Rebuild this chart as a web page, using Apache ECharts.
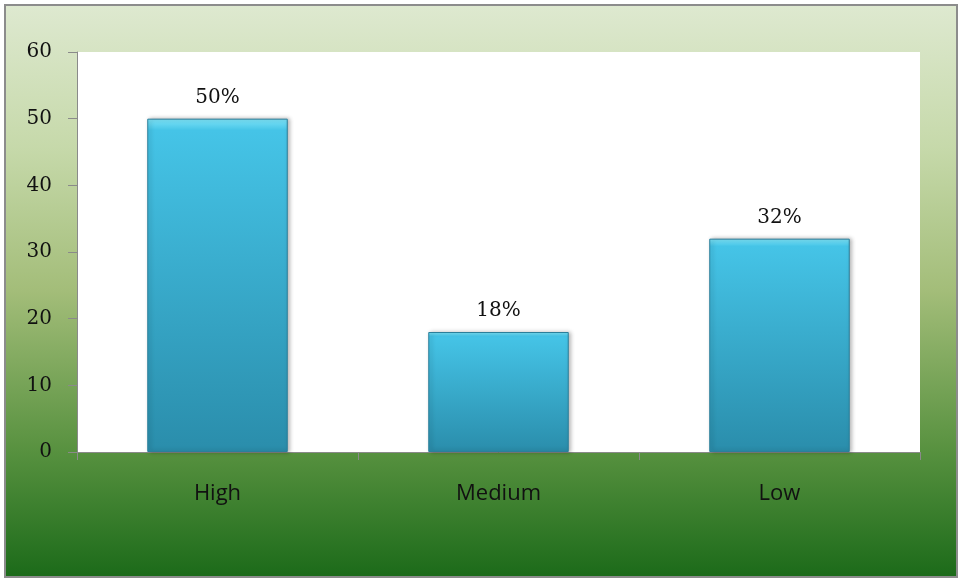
<!DOCTYPE html>
<html>
<head>
<meta charset="utf-8">
<script src="https://cdn.jsdelivr.net/npm/echarts@6/dist/echarts.min.js"></script>
<style>
  html, body { margin: 0; padding: 0; background: #fff; }
  .chart { width: 960px; height: 580px; }
</style>
</head>
<body>
<div class="chart"></div>
<script>
// 数据
var categories = ['High', 'Medium', 'Low'];
var values = [50, 18, 32];
var valueLabels = ['50%', '18%', '32%'];
var yTicks = [0, 10, 20, 30, 40, 50, 60];

(function(){
    var myChart = echarts.init(document.querySelector('.chart'));
    var option = {
        animation: false,
        // 外框 + 背景渐变
        graphic: [
            {
                type: 'rect',
                z: -10,
                shape: { x: 5, y: 5, width: 952, height: 572 },
                style: {
                    fill: new echarts.graphic.LinearGradient(0, 0, 0, 1, [
                        { offset: 0, color: '#dee9d0' },
                        { offset: 0.25, color: '#c6d9aa' },
                        { offset: 0.5, color: '#a3bd79' },
                        { offset: 0.78, color: '#57913f' },
                        { offset: 1, color: '#1b6a19' }
                    ]),
                    stroke: '#8c8c8c',
                    lineWidth: 2
                }
            }
        ],
        grid: {
            left: 77,
            top: 52,
            right: 40,
            bottom: 128,
            show: true,
            backgroundColor: '#ffffff',
            borderWidth: 0
        },
        xAxis: {
            type: 'category',
            data: categories,
            axisLine: { lineStyle: { color: '#8a8a8a', width: 1 } },
            axisTick: { show: true, length: 8, lineStyle: { color: '#8a8a8a' } },
            axisLabel: {
                margin: 31,
                color: '#111',
                fontSize: 22,
                fontFamily: 'Open Sans'
            }
        },
        yAxis: {
            type: 'value',
            min: 0,
            max: 60,
            interval: 10,
            axisLine: { show: true, lineStyle: { color: '#8a8a8a', width: 1 } },
            axisTick: { show: true, length: 9, lineStyle: { color: '#8a8a8a' } },
            splitLine: { show: false },
            axisLabel: {
                margin: 25,
                color: '#111',
                fontSize: 20,
                fontFamily: 'DejaVu Serif',
                formatter: function(v){ return yTicks.indexOf(v) >= 0 ? v : ''; }
            }
        },
        series: [
            {
                type: 'bar',
                data: values,
                barWidth: '50%',
                itemStyle: {
                    color: new echarts.graphic.LinearGradient(0, 0, 0, 1, [
                        { offset: 0, color: '#7ee4f8' },
                        { offset: 0.035, color: '#45c4e7' },
                        { offset: 1, color: '#2a8dab' }
                    ]),
                    borderColor: '#2b7f9b',
                    borderWidth: 1,
                    shadowColor: 'rgba(0,0,0,0.3)',
                    shadowBlur: 4,
                    shadowOffsetX: 2
                },
                label: {
                    show: true,
                    position: 'top',
                    distance: 11,
                    color: '#111',
                    fontSize: 20,
                    fontFamily: 'DejaVu Serif',
                    formatter: function(p){ return valueLabels[p.dataIndex]; }
                }
            }
        ]
    };
    myChart.setOption(option);
    window.addEventListener('resize', function(){
        myChart.resize();
    });
})();
</script>
</body>
</html>
